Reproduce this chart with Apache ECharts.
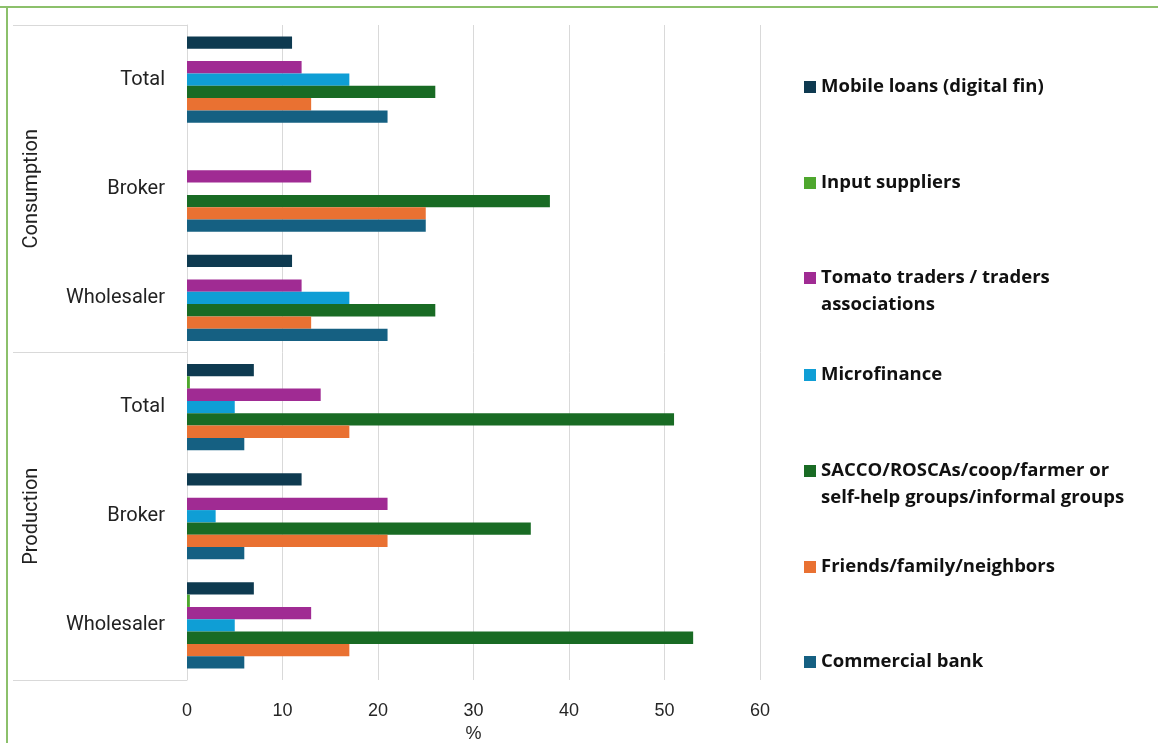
<!DOCTYPE html>
<html>
<head>
<meta charset="utf-8">
<script src="https://cdn.jsdelivr.net/npm/echarts@6/dist/echarts.min.js"></script>
<style>
html,body{margin:0;padding:0;background:#fff;}
#chart{width:1158px;height:743px;}
</style>
</head>
<body>
<div id="chart"></div>
<script>
// Categories bottom -> top
const groups = ['Production', 'Consumption'];
const categoryLabels = ['Wholesaler', 'Broker', 'Total', 'Wholesaler', 'Broker', 'Total'];
const categoryGroups = ['Production', 'Production', 'Production', 'Consumption', 'Consumption', 'Consumption'];
const xTicks = [0, 10, 20, 30, 40, 50, 60];

// Series values (same order as categories)
const mobileLoans = [7, 12, 7, 11, 0, 11];
const inputSuppliers = [0.3, 0, 0.3, 0, 0, 0];
const tomatoTraders = [13, 21, 14, 12, 13, 12];
const microfinance = [5, 3, 5, 17, 0, 17];
const saccoGroups = [53, 36, 51, 26, 38, 26];
const friendsFamily = [17, 21, 17, 13, 25, 13];
const commercialBank = [6, 6, 6, 21, 25, 21];

// series order = top bar -> bottom bar within each group (also legend order)
const seriesNames = [
  'Mobile loans (digital fin)',
  'Input suppliers',
  'Tomato traders / traders\nassociations',
  'Microfinance',
  'SACCO/ROSCAs/coop/farmer or\nself-help groups/informal groups',
  'Friends/family/neighbors',
  'Commercial bank'
];
const seriesData = [mobileLoans, inputSuppliers, tomatoTraders, microfinance, saccoGroups, friendsFamily, commercialBank];
const seriesColors = ['#0E3A50', '#4EA72E', '#A02B93', '#0F9ED5', '#196B24', '#E97132', '#156082'];

const legendMarkerY = [87, 183, 278, 375, 471, 567, 662];

const catIds = categoryLabels.map((l, i) => categoryGroups[i] + '|' + l);
const LH = 27;

const legends = seriesNames.map((name, k) => {
  const twoLine = name.indexOf('\n') >= 0;
  return {
    left: 804,
    top: legendMarkerY[k] - (twoLine ? 1.5 * LH : LH / 2),
    padding: 0,
    orient: 'vertical',
    icon: 'rect',
    itemWidth: 12,
    itemHeight: 12,
    selectedMode: false,
    data: [name],
    formatter: n => (n.indexOf('\n') >= 0 ? ' \n' + n : n),
    textStyle: {
      fontFamily: 'Open Sans',
      fontWeight: 'bold',
      fontSize: 18.5,
      lineHeight: LH,
      color: '#111111'
    }
  };
});

const chart = echarts.init(document.getElementById('chart'), null, { renderer: 'canvas' });
chart.setOption({
  animation: false,
  backgroundColor: '#fff',
  grid: { left: 187, right: 398, top: 25, bottom: 63, containLabel: false, outerBoundsMode: 'none' },
  legend: legends,
  xAxis: {
    type: 'value',
    min: xTicks[0],
    max: xTicks[xTicks.length - 1],
    interval: 10,
    name: '%',
    nameLocation: 'middle',
    nameGap: 42,
    nameTextStyle: { fontFamily: 'Liberation Sans', fontSize: 18, color: '#262626' },
    axisLine: { show: false },
    axisTick: { show: false },
    axisLabel: { margin: 22, fontFamily: 'Liberation Sans', fontSize: 18, color: '#262626' },
    splitLine: { show: true, lineStyle: { color: '#d9d9d9', width: 1 } }
  },
  yAxis: [
    {
      type: 'category',
      data: catIds,
      position: 'left',
      axisLine: { show: true, lineStyle: { color: '#d9d9d9', width: 1 } },
      axisTick: { show: false },
      axisLabel: {
        margin: 22,
        fontFamily: 'Roboto',
        fontSize: 20,
        color: '#222222',
        formatter: v => v.split('|')[1]
      }
    },
    {
      type: 'category',
      data: groups,
      position: 'left',
      axisLine: { show: false },
      axisTick: { show: true, length: 174, lineStyle: { color: '#d9d9d9', width: 1 } },
      axisLabel: {
        rotate: 90,
        margin: 145,
        fontFamily: 'Roboto',
        fontSize: 20,
        color: '#222222'
      }
    }
  ],
  series: seriesNames.map((n, i) => ({
    name: n,
    type: 'bar',
    yAxisIndex: 0,
    data: seriesData[i],
    barGap: '0%',
    barCategoryGap: '21%',
    itemStyle: { color: seriesColors[i] }
  })),
  graphic: [
    { type: 'line', shape: { x1: 0, y1: 7, x2: 1158, y2: 7 }, style: { stroke: '#8cc06b', lineWidth: 2 } },
    { type: 'line', shape: { x1: 7, y1: 7, x2: 7, y2: 743 }, style: { stroke: '#8cc06b', lineWidth: 2 } }
  ]
});
</script>
</body>
</html>
